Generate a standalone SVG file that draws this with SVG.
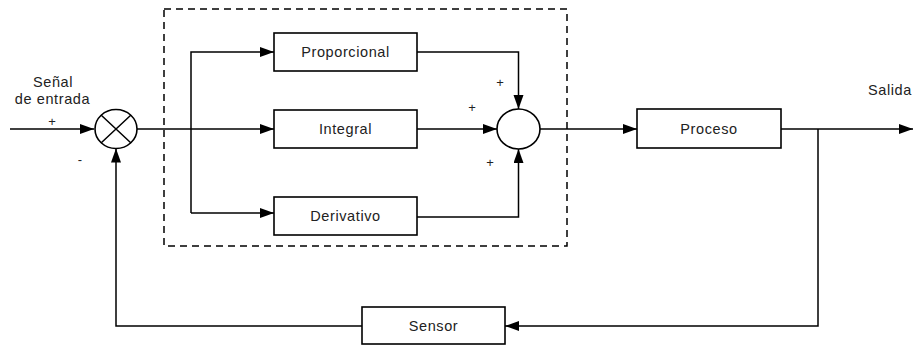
<svg xmlns="http://www.w3.org/2000/svg" width="915" height="345" viewBox="0 0 915 345">
<style>
.box{fill:#fff;stroke:#000;stroke-width:1.6}
.ln{fill:none;stroke:#000;stroke-width:1.5}
.t{font-family:"Liberation Sans",Arial,sans-serif;font-size:14.5px;fill:#222;text-anchor:middle;letter-spacing:0.6px}
.s{font-family:"Liberation Sans",Arial,sans-serif;font-size:13px;fill:#222;text-anchor:middle}
</style>
<defs>
<marker id="a" markerUnits="userSpaceOnUse" markerWidth="15" markerHeight="11" refX="14" refY="5" orient="auto">
<path d="M0,0 L14,5 L0,10 z" fill="#000"/>
</marker>
</defs>
<rect x="0" y="0" width="915" height="345" fill="#fff"/>
<g id="pid-frame">
<rect x="164" y="9" width="403" height="237" fill="none" stroke="#000" stroke-width="1.5" stroke-dasharray="7,5"/>
</g>
<g id="connectors">
<path class="ln" d="M10,129 H94" marker-end="url(#a)"/>
<path class="ln" d="M137,129 H274" marker-end="url(#a)"/>
<path class="ln" d="M191,213 V52 H274" marker-end="url(#a)"/>
<path class="ln" d="M191,213 H274" marker-end="url(#a)"/>
<path class="ln" d="M417,52 H518.5 V109" marker-end="url(#a)"/>
<path class="ln" d="M417,129 H497" marker-end="url(#a)"/>
<path class="ln" d="M417,217 H518.5 V149" marker-end="url(#a)"/>
<path class="ln" d="M540,129 H637" marker-end="url(#a)"/>
<path class="ln" d="M781,129 H913" marker-end="url(#a)"/>
<path class="ln" d="M818,129 V326 H505" marker-end="url(#a)"/>
<path class="ln" d="M362,326 H116 V148.5" marker-end="url(#a)"/>
</g>
<g id="comparator">
<ellipse cx="116" cy="129" rx="21" ry="19.5" class="box"/>
<path class="ln" d="M101,115 L131,143 M131,115 L101,143"/>
</g>
<g id="proporcional">
<rect class="box" x="274" y="33" width="143" height="38"/>
<text class="t" x="345.5" y="57">Proporcional</text>
</g>
<g id="integral">
<rect class="box" x="274" y="110" width="143" height="38"/>
<text class="t" x="345.5" y="134">Integral</text>
</g>
<g id="derivativo">
<rect class="box" x="274" y="197" width="143" height="38"/>
<text class="t" x="345.5" y="221">Derivativo</text>
</g>
<g id="sumador">
<ellipse cx="518.5" cy="129" rx="21.5" ry="20" class="box"/>
</g>
<g id="proceso">
<rect class="box" x="637" y="109" width="144" height="39"/>
<text class="t" x="709" y="134">Proceso</text>
</g>
<g id="sensor">
<rect class="box" x="362" y="307" width="143" height="37"/>
<text class="t" x="433.5" y="331">Sensor</text>
</g>
<g id="labels">
<text class="t" x="53" y="87">Señal</text>
<text class="t" x="52.5" y="104">de entrada</text>
<text class="t" x="890" y="95">Salida</text>
<text class="s" x="52" y="126">+</text>
<text class="s" x="80" y="164">-</text>
<text class="s" x="500" y="87">+</text>
<text class="s" x="472" y="112">+</text>
<text class="s" x="490" y="167">+</text>
</g>
</svg>
